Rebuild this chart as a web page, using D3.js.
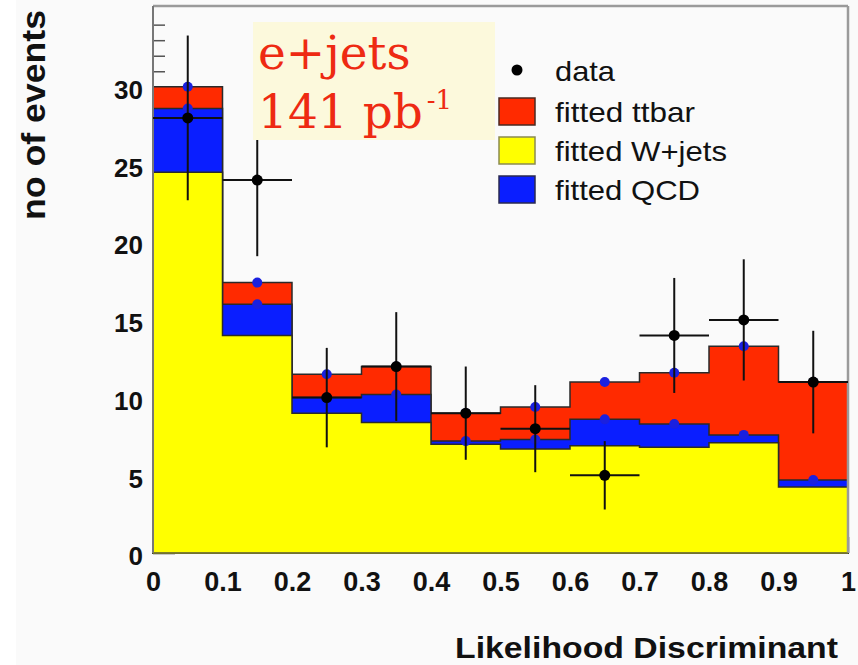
<!DOCTYPE html>
<html>
<head>
<meta charset="utf-8">
<script src="https://cdn.jsdelivr.net/npm/d3@7"></script>
<style>
  body { margin: 0; background: #ffffff; }
  svg { display: block; }
</style>
</head>
<body>
<svg id="chart" width="858" height="665"></svg>
<script>
// ---- data ----
const binEdges = [0, 0.1, 0.2, 0.3, 0.4, 0.5, 0.6, 0.7, 0.8, 0.9, 1.0];
const wjets = [24.5, 14.0, 9.0, 8.4, 7.0, 6.7, 6.9, 6.8, 7.1, 4.25];
const qcd   = [4.1, 2.0, 1.0, 1.8, 0.2, 0.6, 1.7, 1.5, 0.5, 0.45];
const ttbar = [1.4, 1.4, 1.5, 1.8, 1.8, 2.1, 2.4, 3.3, 5.7, 6.3];
const dataVals = [28, 24, 10, 12, 9, 8, 5, 14, 15, 11];
const dataErr  = [5.3, 4.9, 3.2, 3.5, 3.0, 2.8, 2.2, 3.7, 3.9, 3.3];
const yMajorTicks = [0, 5, 10, 15, 20, 25, 30];
const xTicks = [0, 0.1, 0.2, 0.3, 0.4, 0.5, 0.6, 0.7, 0.8, 0.9, 1];
const xTickLabels = ["0", "0.1", "0.2", "0.3", "0.4", "0.5", "0.6", "0.7", "0.8", "0.9", "1"];
const legendLabels = ["data", "fitted ttbar", "fitted W+jets", "fitted QCD"];
const colors = { ttbar: "#ff2a00", wjets: "#ffff00", qcd: "#0a1eff", data: "#000000" };

const sans = "'Liberation Sans', Arial, Helvetica, sans-serif";
const serif = "'DejaVu Serif', 'Liberation Serif', serif";

const svg = d3.select("#chart");
svg.append("rect").attr("x", 0).attr("y", 0).attr("width", 858).attr("height", 665).attr("fill", "#ffffff");
svg.append("rect").attr("x", 16).attr("y", 0).attr("width", 842).attr("height", 665).attr("fill", "#fafafa");

const x = d3.scaleLinear().domain([0, 1]).range([153, 848]);
const y = d3.scaleLinear().domain([0, 35.2]).range([553, 6]);

// minor ticks (inward), drawn below histograms
const minorVals = d3.range(0, 36, 1).filter(v => v % 5 !== 0);
svg.append("g").attr("transform", `translate(${x(0)},0)`)
  .call(d3.axisLeft(y).tickValues(minorVals).tickSize(-12).tickFormat(""))
  .call(g => g.select(".domain").remove())
  .call(g => g.selectAll("line").attr("stroke", "#555").attr("stroke-width", 1.5));

// y major axis
const yAxisG = svg.append("g").attr("transform", `translate(${x(0)},0)`)
  .call(d3.axisLeft(y).tickValues(yMajorTicks).tickSize(-22).tickPadding(10).tickFormat(d3.format("d")));
yAxisG.select(".domain").remove();
yAxisG.selectAll("line").attr("stroke", "#333").attr("stroke-width", 1.5);
yAxisG.selectAll("text").style("font-family", sans).style("font-size", "26px").style("font-weight", "bold")
  .attr("fill", "#111").attr("dy", "0.45em");

// x axis
const xAxisG = svg.append("g").attr("transform", `translate(0,${y(0)})`)
  .call(d3.axisBottom(x).tickValues(xTicks).tickSize(-16).tickPadding(19).tickFormat((d, i) => xTickLabels[i]));
xAxisG.select(".domain").remove();
xAxisG.selectAll("line").attr("stroke", "#333").attr("stroke-width", 1.5);
xAxisG.selectAll("text").style("font-family", sans).style("font-size", "27px").style("font-weight", "bold")
  .attr("fill", "#111");

// stacked histograms
const nb = wjets.length;
const levelWQ = wjets.map((v, i) => v + qcd[i]);
const levelTot = levelWQ.map((v, i) => v + ttbar[i]);
function histPoints(vals) {
  const pts = vals.map((v, i) => ({ x: binEdges[i], v }));
  pts.push({ x: binEdges[nb], v: vals[nb - 1] });
  return pts;
}
const area = d3.area().x(d => x(d.x)).y0(y(0)).y1(d => y(d.v)).curve(d3.curveStepAfter);
const histLayers = [
  { vals: levelTot, fill: colors.ttbar },
  { vals: levelWQ, fill: colors.qcd },
  { vals: wjets, fill: colors.wjets }
];
svg.append("g").selectAll("path").data(histLayers).join("path")
  .attr("d", d => area(histPoints(d.vals)))
  .attr("fill", d => d.fill)
  .attr("stroke", "#2a2a2a")
  .attr("stroke-width", 1.5);

// blue markers at bin centres on top of stacks
const centers = binEdges.slice(0, nb).map((e, i) => (e + binEdges[i + 1]) / 2);
const markerPts = [];
centers.forEach((c, i) => { markerPts.push({ c, v: levelTot[i] }); markerPts.push({ c, v: levelWQ[i] }); });
svg.append("g").selectAll("circle").data(markerPts).join("circle")
  .attr("cx", d => x(d.c)).attr("cy", d => y(d.v)).attr("r", 5).attr("fill", "#1a20e0");

// frame
svg.append("line").attr("x1", x(0)).attr("x2", x(1)).attr("y1", y(35.2)).attr("y2", y(35.2)).attr("stroke", "#9a9a9a").attr("stroke-width", 2.5);
svg.append("line").attr("x1", x(1)).attr("x2", x(1)).attr("y1", y(35.2)).attr("y2", y(0)).attr("stroke", "#9a9a9a").attr("stroke-width", 2.5);
svg.append("line").attr("x1", x(0)).attr("x2", x(0)).attr("y1", y(35.2)).attr("y2", y(0)).attr("stroke", "#777").attr("stroke-width", 2);
svg.append("line").attr("x1", x(0)).attr("x2", x(1)).attr("y1", y(0)).attr("y2", y(0)).attr("stroke", "#8a8a30").attr("stroke-width", 1.5);

// data points with error bars
const dataG = svg.append("g");
const dPts = centers.map((c, i) => ({ c, v: dataVals[i], e: dataErr[i], lo: binEdges[i], hi: binEdges[i + 1] }));
dataG.selectAll("line.v").data(dPts).join("line").attr("class", "v")
  .attr("x1", d => x(d.c)).attr("x2", d => x(d.c))
  .attr("y1", d => y(d.v - d.e)).attr("y2", d => y(d.v + d.e))
  .attr("stroke", "#111").attr("stroke-width", 2);
dataG.selectAll("line.h").data(dPts).join("line").attr("class", "h")
  .attr("x1", d => x(d.lo)).attr("x2", d => x(d.hi))
  .attr("y1", d => y(d.v)).attr("y2", d => y(d.v))
  .attr("stroke", "#111").attr("stroke-width", 2);
dataG.selectAll("circle").data(dPts).join("circle")
  .attr("cx", d => x(d.c)).attr("cy", d => y(d.v)).attr("r", 5.5).attr("fill", "#000");

// text box "e+jets 141 pb-1"
svg.append("rect").attr("x", 253).attr("y", 22).attr("width", 242).attr("height", 118).attr("fill", "#fcf9dc");
svg.append("text").attr("x", 258).attr("y", 69)
  .style("font-family", serif).style("font-size", "47px")
  .attr("fill", "#ee2a12").text("e+jets");
const t2 = svg.append("text").attr("x", 258).attr("y", 128)
  .style("font-family", serif).style("font-size", "47px")
  .attr("fill", "#ee2a12");
t2.append("tspan").text("141 pb");
t2.append("tspan").style("font-size", "26px").attr("dy", -19).attr("dx", 4).text("-1");

// legend
const legY = [70, 111, 150, 189];
const legW = [60, 140, 172, 145];
const leg = svg.append("g");
leg.append("circle").attr("cx", 517).attr("cy", legY[0]).attr("r", 5.5).attr("fill", "#000");
const boxFills = [colors.ttbar, colors.wjets, colors.qcd];
const boxStrokes = ["#4a2a20", "#8a8a50", "#2a2a50"];
boxFills.forEach((f, i) => {
  leg.append("rect").attr("x", 499).attr("y", legY[i + 1] - 13).attr("width", 36).attr("height", 27)
    .attr("fill", f).attr("stroke", boxStrokes[i]).attr("stroke-width", 1.5);
});
legendLabels.forEach((t, i) => {
  leg.append("text").attr("x", 555).attr("y", legY[i] + 11)
    .style("font-family", sans).style("font-size", "28px")
    .attr("textLength", legW[i]).attr("lengthAdjust", "spacingAndGlyphs")
    .attr("fill", "#111").text(t);
});

// axis titles
svg.append("text").attr("transform", "translate(45,115) rotate(-90)").attr("text-anchor", "middle")
  .style("font-family", sans).style("font-size", "34px").style("font-weight", "bold")
  .attr("textLength", 210).attr("lengthAdjust", "spacingAndGlyphs")
  .attr("fill", "#111").text("no of events");
svg.append("text").attr("x", 455).attr("y", 658)
  .style("font-family", sans).style("font-size", "30px").style("font-weight", "bold")
  .attr("textLength", 383).attr("lengthAdjust", "spacingAndGlyphs")
  .attr("fill", "#111").text("Likelihood Discriminant");
</script>
</body>
</html>
